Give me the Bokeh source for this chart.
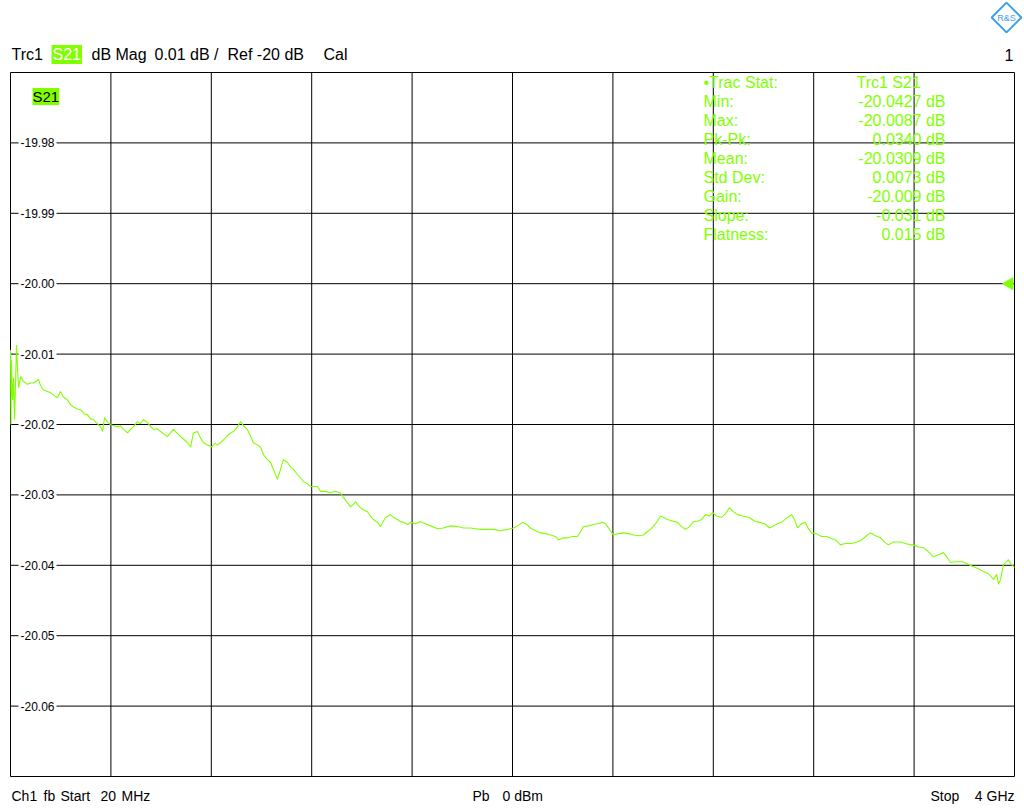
import math
from bokeh.plotting import figure
from bokeh.models import Label, ColumnDataSource, Range1d
from bokeh.embed import file_html
from bokeh.resources import INLINE

# ---- data: S21 magnitude trace (frequency in MHz, magnitude in dB) ----
freq_mhz = [20, 22, 24, 28, 32, 36, 44, 48, 52, 60, 72, 87, 99, 111, 131, 139, 151, 167, 179, 194,
            206, 218, 230, 246, 258, 270, 286, 297, 313, 325, 337, 349, 365, 377, 385, 393, 405, 416,
            432, 444, 456, 468, 484, 496, 508, 523, 535, 547, 563, 575, 587, 603, 615, 626, 642, 654,
            666, 682, 694, 710, 722, 734, 745, 761, 773, 785, 801, 817, 829, 841, 852, 864, 880, 892,
            904, 920, 932, 944, 959, 971, 983, 999, 1011, 1023, 1039, 1051, 1066, 1078, 1090, 1102,
            1118, 1130, 1142, 1158, 1170, 1181, 1197, 1209, 1225, 1237, 1249, 1269, 1288, 1308, 1328,
            1340, 1356, 1368, 1380, 1388, 1399, 1407, 1419, 1435, 1447, 1459, 1475, 1487, 1499, 1507,
            1518, 1526, 1538, 1554, 1566, 1578, 1594, 1606, 1626, 1645, 1665, 1685, 1713, 1736, 1764,
            1792, 1816, 1843, 1863, 1883, 1911, 1935, 1962, 1990, 2014, 2030, 2050, 2066, 2081, 2101,
            2121, 2141, 2161, 2180, 2192, 2212, 2228, 2248, 2268, 2280, 2291, 2311, 2331, 2347, 2367,
            2379, 2387, 2398, 2410, 2430, 2450, 2470, 2490, 2509, 2529, 2545, 2557, 2577, 2597, 2609,
            2624, 2644, 2664, 2680, 2696, 2712, 2727, 2747, 2759, 2775, 2791, 2803, 2819, 2838, 2854,
            2870, 2886, 2902, 2922, 2949, 2969, 2989, 3009, 3029, 3040, 3060, 3080, 3100, 3116, 3128,
            3140, 3155, 3171, 3183, 3195, 3215, 3235, 3255, 3275, 3291, 3310, 3330, 3354, 3374, 3394,
            3417, 3429, 3449, 3469, 3485, 3500, 3520, 3548, 3568, 3588, 3600, 3619, 3639, 3659, 3679,
            3699, 3718, 3734, 3746, 3766, 3794, 3814, 3837, 3857, 3877, 3897, 3917, 3929, 3937, 3945,
            3956, 3968, 3976, 3988, 4000]

s21_db = [-20.0094, -20.0200, -20.0108, -20.0165, -20.0134, -20.0193, -20.0087, -20.0122, -20.0148, -20.0132,
          -20.0139, -20.0143, -20.0141, -20.0141, -20.0136, -20.0145, -20.0151, -20.0153, -20.0155, -20.0159,
          -20.0162, -20.0153, -20.0161, -20.0165, -20.0172, -20.0175, -20.0178, -20.0179, -20.0185, -20.0186,
          -20.0192, -20.0193, -20.0199, -20.0203, -20.0210, -20.0190, -20.0197, -20.0200, -20.0202, -20.0203,
          -20.0202, -20.0207, -20.0212, -20.0207, -20.0203, -20.0196, -20.0199, -20.0193, -20.0197, -20.0203,
          -20.0207, -20.0206, -20.0210, -20.0213, -20.0217, -20.0212, -20.0207, -20.0213, -20.0217, -20.0222,
          -20.0226, -20.0232, -20.0212, -20.0210, -20.0219, -20.0226, -20.0229, -20.0232, -20.0227, -20.0229,
          -20.0226, -20.0222, -20.0216, -20.0212, -20.0210, -20.0203, -20.0196, -20.0202, -20.0207, -20.0216,
          -20.0226, -20.0229, -20.0232, -20.0243, -20.0250, -20.0254, -20.0267, -20.0278, -20.0264, -20.0250,
          -20.0254, -20.0260, -20.0264, -20.0271, -20.0276, -20.0281, -20.0284, -20.0288, -20.0288, -20.0288,
          -20.0295, -20.0295, -20.0297, -20.0295, -20.0297, -20.0304, -20.0311, -20.0317, -20.0313, -20.0310,
          -20.0315, -20.0318, -20.0321, -20.0324, -20.0330, -20.0335, -20.0339, -20.0345, -20.0337, -20.0332,
          -20.0330, -20.0328, -20.0332, -20.0335, -20.0338, -20.0339, -20.0342, -20.0339, -20.0341, -20.0338,
          -20.0341, -20.0344, -20.0348, -20.0347, -20.0344, -20.0345, -20.0347, -20.0347, -20.0348, -20.0349,
          -20.0349, -20.0349, -20.0351, -20.0349, -20.0347, -20.0344, -20.0339, -20.0342, -20.0347, -20.0351,
          -20.0354, -20.0355, -20.0357, -20.0359, -20.0364, -20.0361, -20.0361, -20.0359, -20.0359, -20.0352,
          -20.0345, -20.0344, -20.0342, -20.0341, -20.0339, -20.0341, -20.0345, -20.0351, -20.0357, -20.0355,
          -20.0354, -20.0355, -20.0357, -20.0358, -20.0357, -20.0352, -20.0349, -20.0341, -20.0330, -20.0332,
          -20.0335, -20.0337, -20.0339, -20.0345, -20.0349, -20.0345, -20.0338, -20.0337, -20.0335, -20.0328,
          -20.0330, -20.0325, -20.0330, -20.0332, -20.0327, -20.0318, -20.0324, -20.0328, -20.0330, -20.0332,
          -20.0337, -20.0339, -20.0341, -20.0347, -20.0345, -20.0341, -20.0338, -20.0332, -20.0328, -20.0335,
          -20.0347, -20.0341, -20.0339, -20.0348, -20.0354, -20.0355, -20.0359, -20.0359, -20.0362, -20.0364,
          -20.0371, -20.0369, -20.0369, -20.0367, -20.0364, -20.0357, -20.0354, -20.0358, -20.0361, -20.0367,
          -20.0371, -20.0367, -20.0367, -20.0369, -20.0371, -20.0371, -20.0374, -20.0375, -20.0381, -20.0388,
          -20.0385, -20.0382, -20.0389, -20.0396, -20.0395, -20.0395, -20.0398, -20.0402, -20.0405, -20.0409,
          -20.0412, -20.0420, -20.0413, -20.0427, -20.0420, -20.0399, -20.0395, -20.0392, -20.0399, -20.0403]

# grid / tick values
x_grid_mhz = [20, 418, 816, 1214, 1612, 2010, 2408, 2806, 3204, 3602, 4000]
y_grid_db = [-19.97, -19.98, -19.99, -20.00, -20.01, -20.02, -20.03, -20.04, -20.05, -20.06, -20.07]
y_tick_labels = ["-19.98", "-19.99", "-20.00", "-20.01", "-20.02", "-20.03", "-20.04", "-20.05", "-20.06"]
y_tick_values = [-19.98, -19.99, -20.00, -20.01, -20.02, -20.03, -20.04, -20.05, -20.06]

ref_level_db = -20.00

stat_names = ["\u2022Trac Stat:", "Min:", "Max:", "Pk-Pk:", "Mean:", "Std Dev:", "Gain:", "Slope:", "Flatness:"]
stat_values = ["", "-20.0427 dB", "-20.0087 dB", "0.0340 dB", "-20.0309 dB", "0.0073 dB", "-20.009 dB", "-0.031 dB", "0.015 dB"]

GREEN = "#80ff00"
LOGO_BLUE = "#3fa0ea"
FONT = "Liberation Sans"

W, H = 1024, 812
# diagram box occupies page pixels x 10..1014, y 72..776
X0, X1 = x_grid_mhz[0], x_grid_mhz[-1]
Y0, Y1 = y_grid_db[-1], y_grid_db[0]
xs = (X1 - X0) / 1004.0
ys = (Y1 - Y0) / 704.0

p = figure(width=W, height=H, output_backend="svg", toolbar_location=None,
           x_axis_type=None, y_axis_type=None,
           x_range=Range1d(X0 - 10 * xs, X1 + 10 * xs),
           y_range=Range1d(Y0 - 36 * ys, Y1 + 72 * ys),
           min_border_left=0, min_border_right=0, min_border_top=0, min_border_bottom=0)
p.background_fill_color = "white"
p.border_fill_color = "white"
p.outline_line_color = None

# graticule (including the box)
p.segment(x0=x_grid_mhz, y0=[Y0] * len(x_grid_mhz), x1=x_grid_mhz, y1=[Y1] * len(x_grid_mhz),
          line_color="black", line_width=1)
p.segment(x0=[X0] * len(y_grid_db), y0=y_grid_db, x1=[X1] * len(y_grid_db), y1=y_grid_db,
          line_color="black", line_width=1)

src = ColumnDataSource(dict(f=freq_mhz, db=s21_db))
p.line("f", "db", source=src, line_color=GREEN, line_width=1.1)

# reference level marker at right edge
p.scatter(x=[X1 - 5 * xs], y=[ref_level_db], marker="triangle", angle=math.pi / 2,
          size=12, fill_color=GREEN, line_color=GREEN)

# R&S logo (diamond outline) in the top right corner
logo_x = X0 + (1006 - 10) * xs
logo_y = Y1 + (72 - 17) * ys
p.scatter(x=[logo_x], y=[logo_y], marker="square", angle=math.pi / 4, size=21,
          fill_color=None, line_color=LOGO_BLUE, line_width=2)

# y tick labels inside the box
for val, txt in zip(y_tick_values, y_tick_labels):
    p.add_layout(Label(x=18, y=val, x_units="screen", y_units="data", text=txt,
                       text_font=FONT, text_font_size="12px", text_color="black",
                       text_baseline="middle", text_align="left",
                       background_fill_color="white", padding=2))

def lab(x, y, text, size="16px", color="black", align="left", bg=None, font=FONT, **kw):
    # x, y: page-pixel positions (frame covers the whole canvas)
    l = Label(x=x, y=H - y, x_units="screen", y_units="screen", text=text,
              text_font=font, text_font_size=size, text_color=color,
              text_align=align, text_baseline="middle", **kw)
    if bg is not None:
        l.background_fill_color = bg
    p.add_layout(l)

# header line
lab(11, 54, "Trc1")
lab(51, 54, "S21", color="white", bg=GREEN, padding=1)
lab(91, 54, "dB Mag")
lab(154, 54, "0.01 dB /")
lab(227, 54, "Ref -20 dB")
lab(323, 54, "Cal")
lab(1013, 54, "1", align="right")

# S21 tag inside box
lab(32, 96, "S21", bg=GREEN, size="15px")

# trace statistics
row_y = [82, 101, 120, 139, 158, 177, 196, 215, 234]
for yy, name, val in zip(row_y, stat_names, stat_values):
    lab(703, yy, name, color=GREEN)
    if val:
        lab(945, yy, val, color=GREEN, align="right")
lab(856, 82, "Trc1 S21", color=GREEN)

# footer (words placed individually to keep the wide spacing)
FS = "14px"
lab(11, 795, "Ch1", size=FS)
lab(43, 795, "fb", size=FS)
lab(60, 795, "Start", size=FS)
lab(100, 795, "20", size=FS)
lab(121, 795, "MHz", size=FS)
lab(472, 795, "Pb", size=FS)
lab(502, 795, "0 dBm", size=FS)
lab(930, 795, "Stop", size=FS)
lab(1014, 795, "4 GHz", size=FS, align="right")

# logo lettering
lab(1006, 17, "R&S", size="9px", color=LOGO_BLUE, align="center")

open("out.html", "w").write(file_html(p, INLINE))
